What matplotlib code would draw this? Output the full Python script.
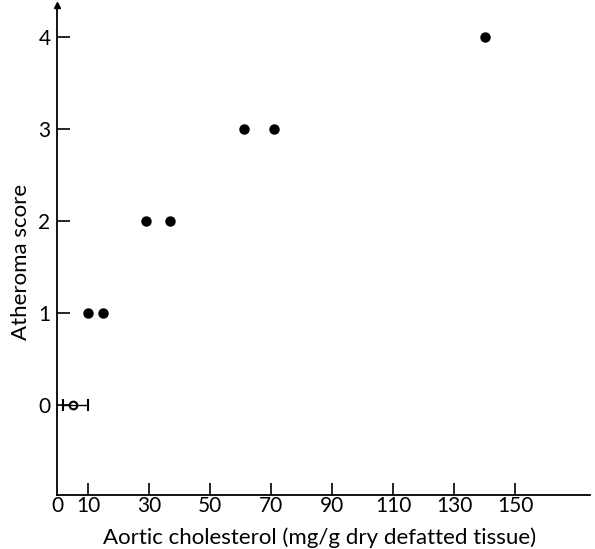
import numpy as np
import matplotlib.pyplot as plt

# aortic cholesterol (mg/g dry defatted tissue) vs atheroma score
cholesterol = [5, 10, 15, 29, 37, 61, 71, 140]
score = [0, 1, 1, 2, 2, 3, 3, 4]
err_lo = [3.2, 0, 0, 0, 0, 0, 0, 0]
err_hi = [5, 0, 0, 0, 0, 0, 0, 0]

xticks = [10, 30, 50, 70, 90, 110, 130, 150]
yticks = [0, 1, 2, 3, 4]

plt.rcParams['font.family'] = ['Lato', 'DejaVu Sans']
fs = 15

fig = plt.figure(figsize=(5.95, 5.49), dpi=100)
ax = fig.add_axes([0.0966, 0.0984, 0.895, 0.893])

ax.errorbar(cholesterol[:1], score[:1], xerr=[err_lo[:1], err_hi[:1]],
            fmt='o', color='black', ms=5.5, mfc='none', mew=1.5,
            elinewidth=1, capsize=4, ls='none')
ax.plot(cholesterol[1:], score[1:], 'o', color='black', ms=6.5)

ax.set_xlim(0, 174.5)
ax.set_ylim(-0.98, 4.35)
ax.spines['top'].set_visible(False)
ax.spines['right'].set_visible(False)
for s in ['left', 'bottom']:
    ax.spines[s].set_linewidth(1.3)

ax.set_xticks(xticks)
ax.set_xticklabels([str(t) for t in xticks])
ax.set_yticks(yticks)
ax.tick_params(axis='both', direction='in', length=9, width=1.2,
               labelsize=fs)
ax.tick_params(axis='x', pad=1)
ax.tick_params(axis='y', pad=5)
ax.text(0, -0.98, '0', ha='center', va='top', fontsize=fs,
        transform=ax.transData)
ax.texts[-1].set_y(-0.98 - 0.012)

# arrow at top of y axis
ax.plot(0, 4.35, marker='^', color='black', ms=5, clip_on=False)

ax.text(0.4925, -0.1, 'Aortic cholesterol (mg/g dry defatted tissue)',
        fontsize=16, ha='center', va='baseline', transform=ax.transAxes)
ax.text(-0.057, 0.4755, 'Atheroma score', fontsize=16, rotation=90,
        rotation_mode='anchor', ha='center', va='baseline',
        transform=ax.transAxes)

fig.savefig('out.png', dpi=100)
